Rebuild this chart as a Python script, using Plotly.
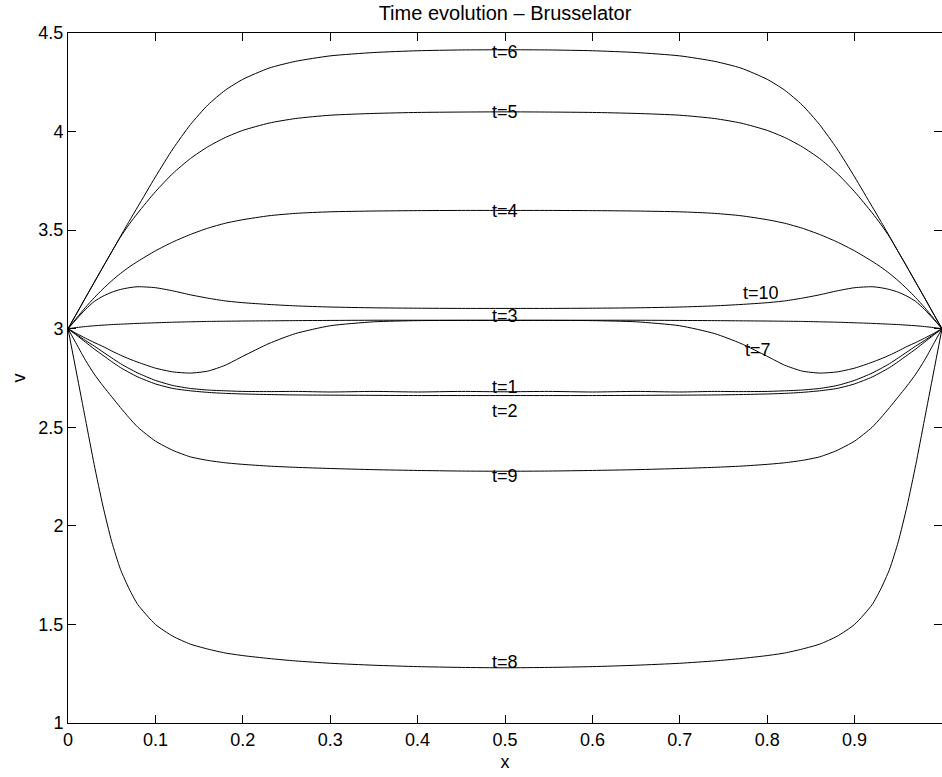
import plotly.graph_objects as go

# ---------------- data ----------------
x = [0.00, 0.01, 0.02, 0.03, 0.04, 0.05, 0.06, 0.07, 0.08, 0.10, 0.12, 0.14, 0.16, 0.18, 0.20,
     0.23, 0.26, 0.30, 0.35, 0.40, 0.45, 0.50, 0.55, 0.60, 0.65, 0.70, 0.74, 0.77, 0.80,
     0.82, 0.84, 0.86, 0.88, 0.90, 0.92, 0.93, 0.94, 0.95, 0.96, 0.97, 0.98, 0.99, 1.00]

v_t1 = [3.000, 2.970, 2.940, 2.912, 2.882, 2.852, 2.823, 2.798, 2.775, 2.738, 2.712, 2.697, 2.689, 2.685, 2.682,
        2.681, 2.682, 2.679, 2.682, 2.679, 2.682, 2.680, 2.682, 2.679, 2.682, 2.679, 2.682, 2.681, 2.682,
        2.685, 2.689, 2.697, 2.712, 2.738, 2.775, 2.798, 2.823, 2.852, 2.882, 2.912, 2.940, 2.970, 3.000]
v_t2 = [3.000, 2.966, 2.932, 2.897, 2.865, 2.833, 2.803, 2.778, 2.755, 2.720, 2.697, 2.685, 2.677, 2.672, 2.669,
        2.666, 2.664, 2.663, 2.662, 2.661, 2.661, 2.661, 2.661, 2.661, 2.662, 2.663, 2.664, 2.666, 2.669,
        2.672, 2.677, 2.685, 2.697, 2.720, 2.755, 2.778, 2.803, 2.833, 2.865, 2.897, 2.932, 2.966, 3.000]
v_t3 = [3.000, 3.006, 3.011, 3.015, 3.018, 3.021, 3.023, 3.025, 3.027, 3.030, 3.033, 3.035, 3.037, 3.038, 3.039,
        3.040, 3.041, 3.042, 3.043, 3.043, 3.043, 3.043, 3.043, 3.043, 3.043, 3.042, 3.041, 3.040, 3.039,
        3.038, 3.037, 3.035, 3.033, 3.030, 3.027, 3.025, 3.023, 3.021, 3.018, 3.015, 3.011, 3.006, 3.000]
v_t4 = [3.000, 3.055, 3.108, 3.157, 3.202, 3.243, 3.280, 3.313, 3.342, 3.395, 3.440, 3.478, 3.510, 3.535, 3.553,
        3.573, 3.585, 3.593, 3.597, 3.599, 3.600, 3.600, 3.600, 3.599, 3.597, 3.593, 3.585, 3.573, 3.553,
        3.535, 3.510, 3.478, 3.440, 3.395, 3.342, 3.313, 3.280, 3.243, 3.202, 3.157, 3.108, 3.055, 3.000]
v_t5 = [3.000, 3.078, 3.157, 3.235, 3.313, 3.390, 3.465, 3.530, 3.588, 3.695, 3.788, 3.863, 3.923, 3.970, 4.006,
        4.043, 4.066, 4.083, 4.092, 4.097, 4.099, 4.100, 4.099, 4.097, 4.092, 4.083, 4.066, 4.043, 4.006,
        3.970, 3.923, 3.863, 3.788, 3.695, 3.588, 3.530, 3.465, 3.390, 3.313, 3.235, 3.157, 3.078, 3.000]
v_t6 = [3.000, 3.078, 3.157, 3.235, 3.313, 3.390, 3.468, 3.545, 3.620, 3.770, 3.912, 4.035, 4.135, 4.210, 4.265,
        4.322, 4.356, 4.384, 4.401, 4.410, 4.414, 4.415, 4.414, 4.410, 4.401, 4.384, 4.356, 4.322, 4.265,
        4.210, 4.135, 4.035, 3.912, 3.770, 3.620, 3.545, 3.468, 3.390, 3.313, 3.235, 3.157, 3.078, 3.000]
v_t7 = [3.000, 2.975, 2.952, 2.930, 2.910, 2.887, 2.866, 2.847, 2.830, 2.800, 2.781, 2.775, 2.785, 2.815, 2.860,
        2.925, 2.975, 3.015, 3.035, 3.041, 3.042, 3.042, 3.042, 3.041, 3.035, 3.015, 2.975, 2.925, 2.860,
        2.815, 2.785, 2.775, 2.781, 2.800, 2.830, 2.847, 2.866, 2.887, 2.910, 2.930, 2.952, 2.975, 3.000]
v_t8 = [3.000, 2.770, 2.540, 2.310, 2.100, 1.920, 1.780, 1.680, 1.600, 1.500, 1.440, 1.400, 1.375, 1.355, 1.342,
        1.327, 1.315, 1.303, 1.293, 1.286, 1.282, 1.280, 1.282, 1.286, 1.293, 1.303, 1.315, 1.327, 1.342,
        1.355, 1.375, 1.400, 1.440, 1.500, 1.600, 1.680, 1.780, 1.920, 2.100, 2.310, 2.540, 2.770, 3.000]
v_t9 = [3.000, 2.920, 2.840, 2.770, 2.710, 2.655, 2.600, 2.548, 2.500, 2.430, 2.383, 2.350, 2.332, 2.320, 2.312,
        2.303, 2.297, 2.291, 2.285, 2.281, 2.278, 2.277, 2.278, 2.281, 2.285, 2.291, 2.297, 2.303, 2.312,
        2.320, 2.332, 2.350, 2.383, 2.430, 2.500, 2.548, 2.600, 2.655, 2.710, 2.770, 2.840, 2.920, 3.000]
v_t10 = [3.000, 3.050, 3.098, 3.138, 3.165, 3.185, 3.199, 3.208, 3.213, 3.208, 3.192, 3.172, 3.155, 3.141, 3.132,
         3.123, 3.116, 3.110, 3.106, 3.104, 3.103, 3.103, 3.103, 3.104, 3.106, 3.110, 3.116, 3.123, 3.132,
         3.141, 3.155, 3.172, 3.192, 3.208, 3.213, 3.208, 3.199, 3.185, 3.165, 3.138, 3.098, 3.050, 3.000]

series_names = ["t=1", "t=2", "t=3", "t=4", "t=5", "t=6", "t=7", "t=8", "t=9", "t=10"]
series_values = [v_t1, v_t2, v_t3, v_t4, v_t5, v_t6, v_t7, v_t8, v_t9, v_t10]

label_x = [0.5, 0.5, 0.5, 0.5, 0.5, 0.5, 0.789, 0.5, 0.5, 0.793]
label_v = [2.704, 2.584, 3.062, 3.599, 4.098, 4.403, 2.892, 1.310, 2.251, 3.181]

x_ticks = [0, 0.1, 0.2, 0.3, 0.4, 0.5, 0.6, 0.7, 0.8, 0.9, 1]
x_ticktext = ["0", "0.1", "0.2", "0.3", "0.4", "0.5", "0.6", "0.7", "0.8", "0.9", "1"]
y_ticks = [1, 1.5, 2, 2.5, 3, 3.5, 4, 4.5]
y_ticktext = ["1", "1.5", "2", "2.5", "3", "3.5", "4", "4.5"]

# ---------------- figure ----------------
FONT = "Liberation Sans, Arial, Helvetica, sans-serif"
FS = 18

fig = go.Figure()
for name, vals in zip(series_names, series_values):
    fig.add_trace(go.Scatter(x=x, y=vals, mode="lines", name=name,
                             line=dict(color="black", width=1, shape="spline", smoothing=0.6),
                             showlegend=False, hoverinfo="skip"))

for name, lx, lv in zip(series_names, label_x, label_v):
    fig.add_annotation(x=lx, y=lv, xref="x", yref="y", text=name, showarrow=False,
                       xanchor="center", yanchor="middle",
                       font=dict(family=FONT, size=FS, color="black"))

axis_common = dict(showline=True, linecolor="black", linewidth=1, mirror="allticks",
                   ticks="inside", ticklen=8, tickwidth=1, tickcolor="black",
                   showgrid=False, zeroline=False,
                   tickfont=dict(family=FONT, size=FS, color="black"))

fig.update_xaxes(range=[0, 1], tickvals=x_ticks, ticktext=x_ticktext,
                 title=dict(text="x", font=dict(family=FONT, size=FS, color="black"), standoff=6),
                 **axis_common)
fig.update_yaxes(range=[1, 4.5], tickvals=y_ticks, ticktext=y_ticktext,
                 title=dict(text="v", font=dict(family=FONT, size=FS, color="black"), standoff=8),
                 **axis_common)

fig.update_layout(
    width=942, height=777,
    margin=dict(l=68, r=0, t=33, b=54, pad=0),
    paper_bgcolor="white", plot_bgcolor="white",
    title=dict(text="Time evolution – Brusselator", x=0.5, xref="paper", xanchor="center",
               y=1 - 13 / 777, yref="container", yanchor="middle",
               font=dict(family=FONT, size=20, color="black")),
    font=dict(family=FONT, size=FS, color="black"),
)

fig.write_html("out.html")
